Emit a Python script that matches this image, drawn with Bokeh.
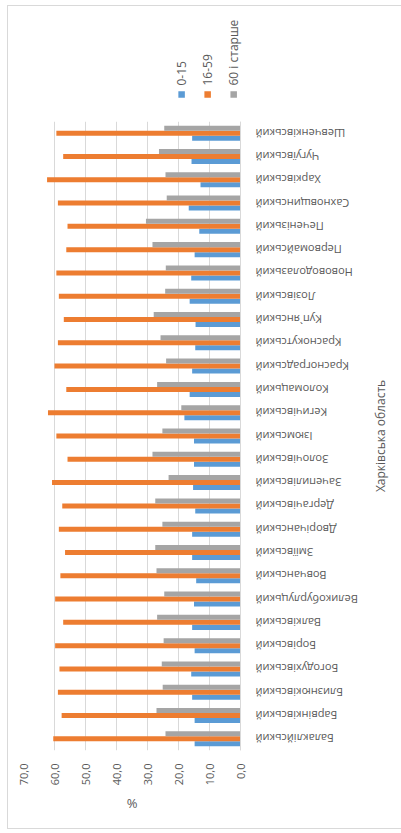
import math
from bokeh.plotting import figure
from bokeh.layouts import column
from bokeh.models import FactorRange, Range1d, ColumnDataSource, FixedTicker, Span, InlineStyleSheet
from bokeh.transform import dodge
from bokeh.core.properties import value
from bokeh.embed import file_html
from bokeh.resources import INLINE

# Districts listed from bottom to top of the chart
districts = [
    "Балаклійський", "Барвінківський", "Близнюківський", "Богодухівський",
    "Борівський", "Валківський", "Великобурлуцький", "Вовчанський",
    "Зміївський", "Дворічанський", "Дергачівський", "Зачепилівський",
    "Золочівський", "Ізюмський", "Кегичівський", "Коломацький",
    "Красноградський", "Краснокутський", "Куп`янський", "Лозівський",
    "Нововодолазький", "Первомайський", "Печенізький", "Сахновщинський",
    "Харківський", "Чугуївський", "Шевченківський",
]
age_0_15 = [14.8, 14.8, 15.6, 15.9, 14.8, 15.6, 15.0, 14.3, 15.6, 15.6, 14.6, 15.3,
            15.0, 15.0, 18.1, 16.4, 15.6, 14.6, 14.5, 16.4, 15.9, 14.8, 13.3, 16.7,
            12.9, 15.8, 15.6]
age_16_59 = [60.4, 57.7, 58.9, 58.4, 59.8, 57.2, 59.8, 58.1, 56.6, 58.6, 57.5, 60.8,
             55.8, 59.4, 62.1, 56.2, 60.0, 58.9, 57.0, 58.6, 59.4, 56.2, 55.8, 58.9,
             62.4, 57.2, 59.4]
age_60_plus = [24.2, 27.1, 25.1, 25.4, 24.8, 26.9, 24.6, 27.1, 27.5, 25.2, 27.5, 23.2,
               28.4, 25.2, 19.1, 26.9, 24.0, 25.8, 28.0, 24.3, 24.1, 28.4, 30.5, 23.8,
               24.2, 26.3, 24.6]
series_names = ["0-15", "16-59", "60 і старше"]
series_colors = ["#5B9BD5", "#ED7D31", "#A5A5A5"]
value_ticks = [0, 10, 20, 30, 40, 50, 60, 70]
value_tick_labels = ["0,0", "10,0", "20,0", "30,0", "40,0", "50,0", "60,0", "70,0"]
value_axis_title = "%"
category_axis_title = "Харківська область"

FONT = "Open Sans"
TXT = "#595959"
W = 393
LEFT = 23

# shared value range (reversed: 0 on the right); extends right to hold the category labels
xr = Range1d(70, -49.35)
yr = FactorRange(*districts)

# ---------------- legend strip (top) ----------------
leg = figure(width=W, height=121, x_range=xr, y_range=Range1d(121, 0),
             output_backend="svg", toolbar_location=None,
             min_border_left=LEFT, min_border_right=0, min_border_top=0, min_border_bottom=0)
leg.axis.visible = False
leg.grid.visible = False
leg.outline_line_color = None
leg_src = ColumnDataSource(dict(x=[19.0, 10.6, 2.2], name=series_names, color=series_colors))
leg.scatter(x="x", y=94, marker="square", size=6.5, fill_color="color", line_color=None,
            source=leg_src)
leg.text(x="x", y=85, text="name", angle=math.pi / 2, text_align="left", text_baseline="middle",
         text_font=value(FONT), text_font_size="12px", text_color=TXT, source=leg_src)

# ---------------- main chart ----------------
p = figure(width=W, height=669, y_range=yr, x_range=xr,
           output_backend="svg", toolbar_location=None,
           min_border_left=LEFT, min_border_right=0, min_border_top=0, min_border_bottom=40)

src = ColumnDataSource(dict(d=districts, a=age_0_15, b=age_16_59, c=age_60_plus))
bh = 0.215
for col, off, colr in [("a", -bh, series_colors[0]), ("b", 0.0, series_colors[1]),
                       ("c", bh, series_colors[2])]:
    p.hbar(y=dodge("d", off, range=yr), left=0, right=col, height=bh,
           fill_color=colr, line_color=None, source=src)

p.outline_line_color = None
p.xgrid.grid_line_color = "#d9d9d9"
p.ygrid.grid_line_color = None
p.yaxis.visible = False

# category axis line at value 0
p.add_layout(Span(location=0, dimension="height", line_color="#d9d9d9", line_width=1))

xa = p.xaxis[0]
xa.ticker = FixedTicker(ticks=value_ticks)
xa.major_label_overrides = {t: l for t, l in zip(value_ticks, value_tick_labels)}
xa.major_label_orientation = math.pi / 2
xa.major_tick_line_color = None
xa.major_tick_out = 0
xa.major_tick_in = 0
xa.minor_tick_line_color = None
xa.axis_line_color = None
xa.major_label_standoff = 13
xa.major_label_text_font = FONT
xa.major_label_text_font_size = "11px"
xa.major_label_text_color = TXT

# category labels (upside-down, as in the rotated original)
p.text(x=-4.8, y="d", text="d", angle=math.pi, text_align="right", text_baseline="middle",
       text_font=value(FONT), text_font_size="11px", text_color=TXT, source=src)

# category axis title
mid = districts[len(districts) // 2]
p.text(x=[-45.2], y=[mid], text=[category_axis_title], angle=math.pi / 2, text_align="center",
       text_baseline="middle", text_font=value(FONT), text_font_size="12px", text_color=TXT)

# ---------------- value-axis title strip (bottom) ----------------
bot = figure(width=W, height=35, x_range=xr, y_range=Range1d(35, 0),
             output_backend="svg", toolbar_location=None,
             min_border_left=LEFT, min_border_right=0, min_border_top=0, min_border_bottom=0)
bot.axis.visible = False
bot.grid.visible = False
bot.outline_line_color = None
bot.text(x=[sum(value_ticks) / len(value_ticks)], y=[12], text=[value_axis_title],
         text_align="center", text_baseline="middle", text_font=value(FONT),
         text_font_size="13px", text_color=TXT)

# light chart-area frame (left, top and bottom edges, as in the reference)
frame_css = InlineStyleSheet(css="""
:host::after {
  content: "";
  position: absolute;
  left: 7px; top: 5px; width: 394px; height: 824px;
  box-sizing: border-box;
  border: 1px solid #d9d9d9; border-right: none;
  pointer-events: none;
}
""")

layout = column(leg, p, bot, spacing=0, stylesheets=[frame_css])
open("out.html", "w").write(file_html(layout, INLINE))
